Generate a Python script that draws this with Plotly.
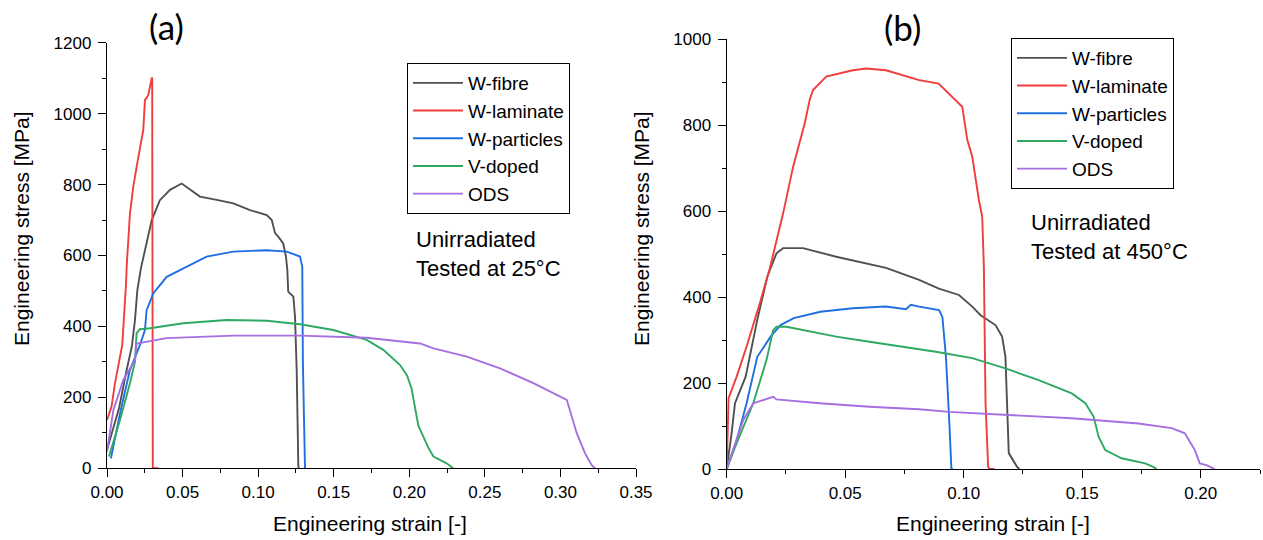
import plotly.graph_objects as go

W, H = 1263, 540

# ---------------- data: panel (a), 25 C ----------------
names = ["W-fibre", "W-laminate", "W-particles", "V-doped", "ODS"]
colors = ["#505050", "#F03C3C", "#1F6FE0", "#2EA862", "#A66EE0"]

a_fibre_strain = [0, 0.004, 0.008, 0.013, 0.0165, 0.0185, 0.0201, 0.0225, 0.0296, 0.035, 0.0417, 0.0494,
                  0.0571, 0.0615, 0.0726, 0.0836, 0.0946, 0.1057, 0.109, 0.1112, 0.1133, 0.1166, 0.1184,
                  0.1193, 0.1199, 0.1233, 0.1244, 0.1255, 0.1266, 0.127]
a_fibre_stress = [52, 110, 170, 277, 345, 418, 503, 565, 700, 756, 785, 803,
                  780, 766, 757, 747, 728, 714, 700, 663, 653, 634, 597,
                  560, 498, 484, 427, 277, 5, 0]

a_lam_strain = [0, 0.003, 0.0053, 0.0101, 0.0126, 0.013, 0.0152, 0.0174, 0.0196, 0.0218, 0.024, 0.0251,
                0.0273, 0.0296, 0.0299, 0.0303, 0.034]
a_lam_stress = [136, 174, 240, 348, 521, 568, 719, 794, 850, 907, 954, 1038,
                1052, 1100, 1100, 0, 0]

a_part_strain = [0.0026, 0.0086, 0.0152, 0.0218, 0.0251, 0.0262, 0.0306, 0.0395, 0.0483, 0.0527, 0.0659,
                 0.0836, 0.1057, 0.1189, 0.1277, 0.1292, 0.1296, 0.131]
a_part_stress = [28, 155, 277, 348, 390, 446, 493, 540, 559, 568, 597,
                 611, 615, 611, 597, 568, 300, 0]

a_vdop_strain = [0.0013, 0.0086, 0.0152, 0.0185, 0.0196, 0.0218, 0.0284, 0.0505, 0.0791, 0.1057, 0.1277,
                 0.1498, 0.1718, 0.1828, 0.1939, 0.1985, 0.2015, 0.204, 0.206, 0.2093, 0.213, 0.216,
                 0.2247, 0.2291]
a_vdop_stress = [33, 136, 240, 300, 381, 392, 395, 409, 418, 416, 406,
                 390, 362, 334, 291, 262, 225, 160, 120, 89, 55, 33,
                 14, 0]

a_ods_strain = [0, 0.0042, 0.0108, 0.0185, 0.0196, 0.0262, 0.0395, 0.0836, 0.1277, 0.1718, 0.2071,
                0.216, 0.2381, 0.26, 0.2821, 0.3042, 0.3053, 0.3108, 0.3163, 0.3207, 0.3229]
a_ods_stress = [47, 164, 249, 305, 352, 357, 367, 374, 374, 368, 352,
                338, 315, 282, 240, 193, 178, 99, 42, 9, 0]

# ---------------- data: panel (b), 450 C ----------------
b_fibre_strain = [0, 0.002, 0.0035, 0.008, 0.0129, 0.0171, 0.021, 0.0238, 0.0322, 0.0462, 0.0672, 0.0812,
                  0.0895, 0.098, 0.1036, 0.1071, 0.1134, 0.1162, 0.1176, 0.1183, 0.119, 0.1225, 0.1235]
b_fibre_stress = [0, 80, 153, 215, 347, 447, 502, 514, 514, 494, 468, 440,
                  420, 405, 378, 358, 335, 308, 261, 153, 37, 5, 0]

b_lam_strain = [0, 0.0008, 0.0042, 0.0084, 0.014, 0.0182, 0.0238, 0.028, 0.0329, 0.035, 0.0364, 0.042,
                0.0532, 0.0588, 0.0672, 0.0742, 0.0812, 0.0894, 0.0952, 0.0994, 0.1015, 0.1036, 0.1064,
                0.1078, 0.1085, 0.1092, 0.1103, 0.111, 0.113]
b_lam_stress = [0, 165, 215, 285, 386, 467, 595, 703, 804, 859, 882, 913,
                928, 932, 928, 917, 905, 897, 866, 843, 766, 727, 626,
                587, 471, 153, 5, 0, 0]

b_part_strain = [0, 0.0042, 0.0084, 0.0129, 0.0185, 0.0227, 0.0283, 0.0395, 0.0532, 0.0672, 0.0756,
                 0.0777, 0.0812, 0.0896, 0.091, 0.0925, 0.094, 0.0948, 0.0955]
b_part_stress = [0, 67, 153, 261, 308, 335, 351, 366, 374, 378, 372,
                 382, 378, 370, 354, 261, 100, 0, 0]

b_vdop_strain = [0, 0.0042, 0.0112, 0.0168, 0.0196, 0.021, 0.0252, 0.0322, 0.0462, 0.0602, 0.0742,
                 0.0882, 0.1036, 0.1176, 0.1316, 0.1456, 0.1513, 0.1548, 0.1569, 0.1597, 0.1666,
                 0.1765, 0.18, 0.1814]
b_vdop_stress = [0, 60, 153, 254, 323, 331, 331, 323, 308, 296, 285,
                 273, 258, 234, 207, 176, 153, 122, 75, 44, 25,
                 13, 5, 0]

b_ods_strain = [0, 0.0042, 0.007, 0.0112, 0.0154, 0.0196, 0.021, 0.0392, 0.0602, 0.0812, 0.0938,
                0.1176, 0.1456, 0.1737, 0.1877, 0.1933, 0.1975, 0.1996, 0.2024, 0.2059]
b_ods_stress = [0, 67, 114, 153, 160, 168, 162, 153, 145, 139, 133,
                126, 118, 106, 95, 83, 44, 13, 9, 0]

panel_a = [(a_fibre_strain, a_fibre_stress), (a_lam_strain, a_lam_stress), (a_part_strain, a_part_stress),
           (a_vdop_strain, a_vdop_stress), (a_ods_strain, a_ods_stress)]
panel_b = [(b_fibre_strain, b_fibre_stress), (b_lam_strain, b_lam_stress), (b_part_strain, b_part_stress),
           (b_vdop_strain, b_vdop_stress), (b_ods_strain, b_ods_stress)]

FONT = "Liberation Sans, Arial, sans-serif"

fig = go.Figure()
for (sx, sy), n, c in zip(panel_a, names, colors):
    fig.add_trace(go.Scatter(x=sx, y=sy, mode="lines", name=n, line=dict(color=c, width=1.9),
                             xaxis="x", yaxis="y", legend="legend"))
for (sx, sy), n, c in zip(panel_b, names, colors):
    fig.add_trace(go.Scatter(x=sx, y=sy, mode="lines", name=n, line=dict(color=c, width=1.9),
                             xaxis="x2", yaxis="y2", legend="legend2"))


def px_x(p):
    return p / W


def px_y(p):
    return 1 - p / H


axis_common = dict(showline=True, linecolor="black", linewidth=1.3, showgrid=False, zeroline=False,
                   ticks="outside", ticklen=8, tickwidth=1.2, tickcolor="black", automargin=False,
                   tickfont=dict(family=FONT, size=17, color="black"), mirror=False)
minor_common = dict(ticks="outside", ticklen=4, tickcolor="black", tickwidth=1.2)

fig.update_layout(
    width=W, height=H, margin=dict(l=0, r=0, t=0, b=0, autoexpand=False),
    paper_bgcolor="white", plot_bgcolor="white",
    xaxis=dict(domain=[px_x(107), px_x(636)], range=[0, 0.35], dtick=0.05, tickformat=".2f",
               minor=dict(dtick=0.025, **minor_common), anchor="y", **axis_common),
    yaxis=dict(domain=[px_y(468.3), px_y(42.7)], range=[0, 1200], dtick=200, ticklabelstandoff=3,
               minor=dict(dtick=100, **minor_common), anchor="x", **axis_common),
    xaxis2=dict(domain=[px_x(726.7), px_x(1260)], range=[0, 0.225], dtick=0.05, tickformat=".2f",
                minor=dict(dtick=0.025, **minor_common), anchor="y2", **axis_common),
    yaxis2=dict(domain=[px_y(469), px_y(39.3)], range=[0, 1000], dtick=200, ticklabelstandoff=3,
                minor=dict(dtick=100, **minor_common), anchor="x2", **axis_common),
    legend=dict(x=px_x(407), y=px_y(63), xanchor="left", yanchor="top", bgcolor="white",
                bordercolor="black", borderwidth=1, font=dict(family=FONT, size=19, color="black"),
                itemwidth=50),
    legend2=dict(x=px_x(1011), y=px_y(38), xanchor="left", yanchor="top", bgcolor="white",
                 bordercolor="black", borderwidth=1, font=dict(family=FONT, size=19, color="black"),
                 itemwidth=50),
    showlegend=True,
)

ann_font = dict(family=FONT, size=21, color="black")
annotations = [
    dict(text="Engineering strain [-]", x=px_x(370), y=px_y(523), font=ann_font),
    dict(text="Engineering strain [-]", x=px_x(992.5), y=px_y(523), font=ann_font),
    dict(text="Engineering stress [MPa]", x=px_x(21), y=px_y(229), textangle=-90, font=ann_font),
    dict(text="Engineering stress [MPa]", x=px_x(641), y=px_y(229), textangle=-90, font=ann_font),
    dict(text="(a)", x=px_x(166), y=px_y(26), font=dict(family="Lato, sans-serif", size=35, color="black")),
    dict(text="(b)", x=px_x(902), y=px_y(27), font=dict(family="Lato, sans-serif", size=35, color="black")),
    dict(text="Unirradiated<br>Tested at 25\u00b0C", x=px_x(414), y=px_y(254), xanchor="left", align="left",
         font=dict(family=FONT, size=22, color="black")),
    dict(text="Unirradiated<br>Tested at 450\u00b0C", x=px_x(1029), y=px_y(237), xanchor="left", align="left",
         font=dict(family=FONT, size=22, color="black")),
]
for a in annotations:
    a.setdefault("xanchor", "center")
    a.setdefault("yanchor", "middle")
    a.update(xref="paper", yref="paper", showarrow=False)
fig.update_layout(annotations=annotations)

fig.write_html("out.html")
